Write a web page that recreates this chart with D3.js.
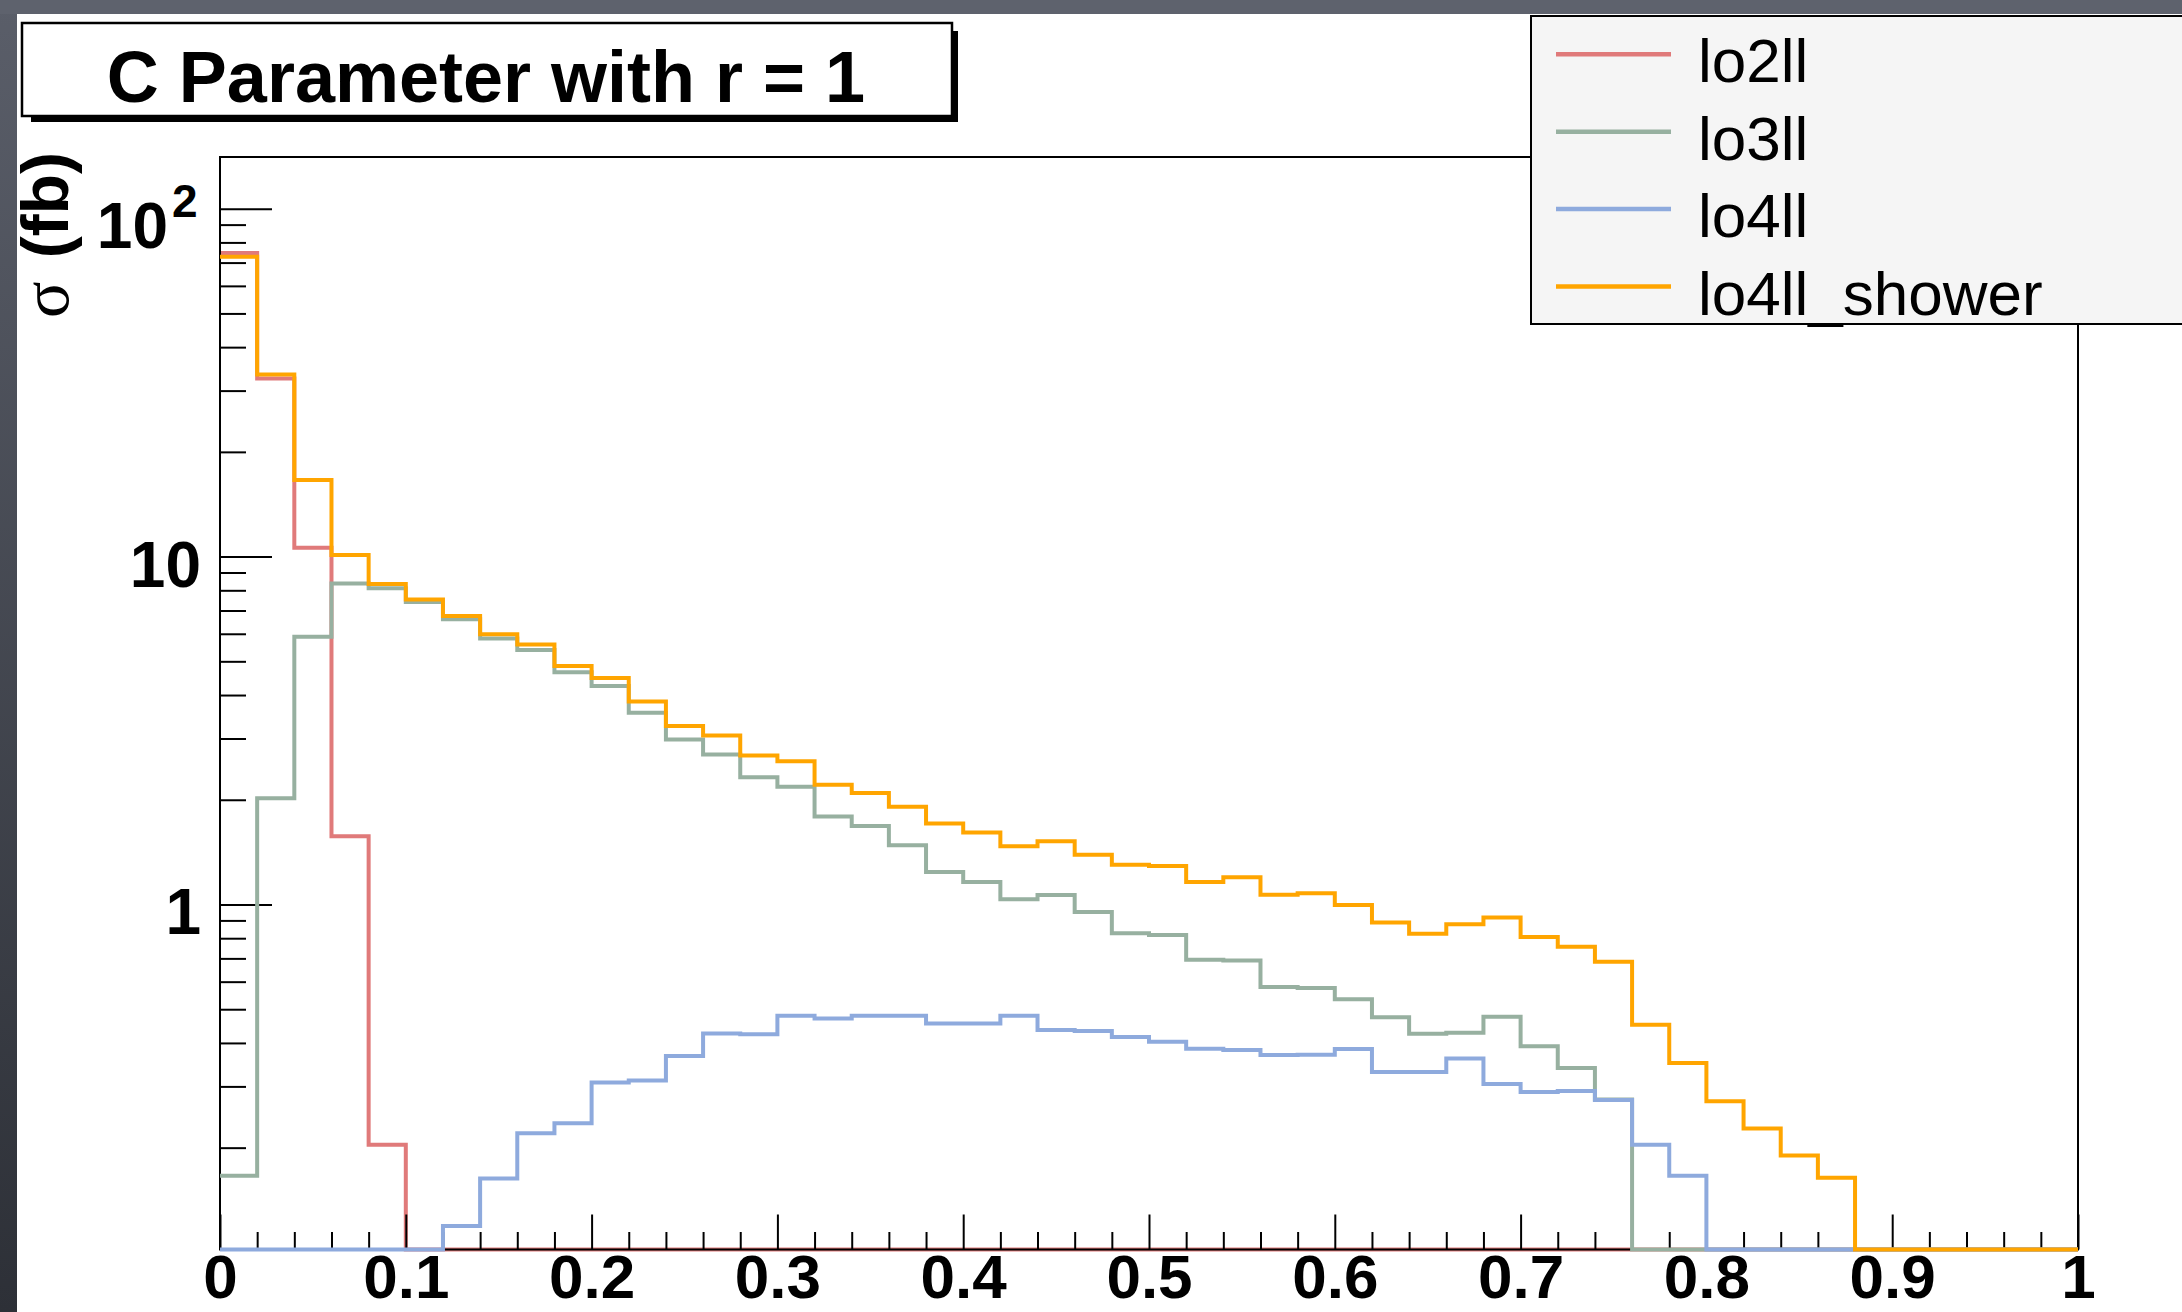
<!DOCTYPE html>
<html>
<head>
<meta charset="utf-8">
<script src="https://cdnjs.cloudflare.com/ajax/libs/d3/7.8.5/d3.min.js"></script>
<style>
  body { margin: 0; background: #ffffff; }
  svg { display: block; }
  text { font-family: "Liberation Sans", Arial, Helvetica, sans-serif; }
</style>
</head>
<body>
<div id="chart"></div>
<script>

// histogram binning: 50 bins of 0.02 between 0 and 1
var binLow = 0, binWidth = 0.02, nBins = 50;

// bin contents (fb); 0 = empty bin
var lo2ll = [74.6, 32.5, 10.6, 1.57, 0.204,
  0, 0, 0, 0, 0, 0, 0, 0, 0, 0, 0, 0, 0, 0, 0, 0, 0, 0, 0, 0,
  0, 0, 0, 0, 0, 0, 0, 0, 0, 0, 0, 0, 0, 0, 0, 0, 0, 0, 0, 0, 0, 0, 0, 0, 0];
var lo3ll = [0.166, 2.02, 5.88, 8.37, 8.11, 7.41, 6.61, 5.82, 5.39, 4.65,
  4.25, 3.56, 2.98, 2.70, 2.32, 2.18, 1.79, 1.68, 1.48, 1.24,
  1.16, 1.035, 1.065, 0.951, 0.827, 0.817, 0.694, 0.690, 0.579, 0.575,
  0.534, 0.474, 0.425, 0.428, 0.476, 0.391, 0.339, 0.275, 0, 0,
  0, 0, 0, 0, 0, 0, 0, 0, 0, 0];
var lo4ll = [0, 0, 0, 0, 0, 0, 0.119, 0.163, 0.220, 0.235,
  0.308, 0.312, 0.367, 0.426, 0.424, 0.479, 0.470, 0.479, 0.479, 0.455,
  0.455, 0.479, 0.436, 0.433, 0.416, 0.403, 0.385, 0.382, 0.369, 0.370,
  0.384, 0.330, 0.330, 0.361, 0.305, 0.289, 0.291, 0.274, 0.204, 0.166,
  0, 0, 0, 0, 0, 0, 0, 0, 0, 0];
var lo4ll_shower = [72.7, 33.4, 16.6, 10.1, 8.34, 7.53, 6.75, 5.98, 5.59, 4.85,
  4.48, 3.83, 3.26, 3.06, 2.68, 2.58, 2.21, 2.09, 1.91, 1.71,
  1.61, 1.47, 1.52, 1.39, 1.30, 1.29, 1.16, 1.197, 1.067, 1.077,
  0.997, 0.887, 0.824, 0.877, 0.917, 0.807, 0.756, 0.685, 0.451, 0.350,
  0.272, 0.227, 0.190, 0.164, 0, 0, 0, 0, 0, 0];

var seriesNames = ["lo2ll", "lo3ll", "lo4ll", "lo4ll_shower"];
var seriesColors = ["#e07a7a", "#97b0a0", "#8eaadd", "#ffa500"];

// axis ticks
var xMajor = [0, 0.1, 0.2, 0.3, 0.4, 0.5, 0.6, 0.7, 0.8, 0.9, 1];
var xTickLabels = ["0", "0.1", "0.2", "0.3", "0.4", "0.5", "0.6", "0.7", "0.8", "0.9", "1"];
var yMajor = [1, 10, 100];
var yTickBase = ["1", "10", "10"];
var yTickSup = ["", "", "2"];
var yMinor = [0.2, 0.3, 0.4, 0.5, 0.6, 0.7, 0.8, 0.9,
              2, 3, 4, 5, 6, 7, 8, 9,
              20, 30, 40, 50, 60, 70, 80, 90];

var titleText = "C Parameter with r = 1";

// canvas
var W = 2182, H = 1312;
var frame = {left: 220, right: 2078, top: 157, bottom: 1249.5};

var svg = d3.select("#chart").append("svg")
    .attr("width", W)
    .attr("height", H);

// slide background round the canvas
var defs = svg.append("defs");
var grad = defs.append("linearGradient")
    .attr("id", "band").attr("x1", 0).attr("y1", 0).attr("x2", 0).attr("y2", 1);
grad.append("stop").attr("offset", "0%").attr("stop-color", "#5a5e69");
grad.append("stop").attr("offset", "100%").attr("stop-color", "#2d3037");

svg.append("rect").attr("width", W).attr("height", H).attr("fill", "url(#band)");
svg.append("rect").attr("width", W).attr("height", 14).attr("fill", "#5e626d");
svg.append("rect").attr("x", 17).attr("y", 14)
    .attr("width", W - 17).attr("height", H - 14).attr("fill", "#ffffff");

// scales
var x = d3.scaleLinear().domain([0, 1]).range([frame.left, frame.right]);
var y = d3.scaleLog().domain([0.10193, 140.8]).range([frame.bottom, frame.top]);
var yFloor = y.domain()[0];

function stepPoints(vals) {
  var pts = vals.map(function(v, i) { return [binLow + i * binWidth, v]; });
  pts.push([binLow + nBins * binWidth, vals[vals.length - 1]]);
  return pts;
}

var line = d3.line()
    .x(function(d) { return x(d[0]); })
    .y(function(d) { return y(Math.max(d[1], yFloor)); })
    .curve(d3.curveStepAfter);

function drawHist(vals, color) {
  svg.append("path")
      .datum(stepPoints(vals))
      .attr("d", line)
      .attr("fill", "none")
      .attr("stroke", color)
      .attr("stroke-width", 4)
      .attr("stroke-linejoin", "miter");
}

// title box with shadow
svg.append("rect").attr("x", 31).attr("y", 31).attr("width", 927).attr("height", 91)
    .attr("fill", "#000");
svg.append("rect").attr("x", 22).attr("y", 23).attr("width", 930).attr("height", 93)
    .attr("fill", "#fff").attr("stroke", "#000").attr("stroke-width", 2.5);
svg.append("text")
    .attr("x", 486).attr("y", 102)
    .attr("text-anchor", "middle")
    .style("font-size", "72px").style("font-weight", "bold")
    .text(titleText);

// first histogram goes under the axes, like ROOT does
drawHist(lo2ll, seriesColors[0]);

// frame
svg.append("rect")
    .attr("x", frame.left).attr("y", frame.top)
    .attr("width", frame.right - frame.left).attr("height", frame.bottom - frame.top)
    .attr("fill", "none").attr("stroke", "#000").attr("stroke-width", 2);

// x axis, ticks pointing inward
var gx = svg.append("g")
    .attr("transform", "translate(0," + frame.bottom + ")")
    .call(d3.axisBottom(x)
        .tickValues(xMajor)
        .tickSize(-35)
        .tickFormat(function(d, i) { return xTickLabels[i]; }));
gx.select(".domain").remove();
gx.selectAll("line").attr("stroke-width", 2);
gx.selectAll("text")
    .attr("y", 1298 - frame.bottom)
    .attr("dy", 0)
    .attr("fill", "#000")
    .style("font-size", "62px")
    .style("font-weight", "bold")
    .style("font-family", "'Liberation Sans', Arial, Helvetica, sans-serif");

var xMinor = d3.range(0, 51).map(function(i) { return i * 0.02; })
    .filter(function(v, i) { return i % 5 !== 0; });
var gxm = svg.append("g")
    .attr("transform", "translate(0," + frame.bottom + ")")
    .call(d3.axisBottom(x).tickValues(xMinor).tickSize(-17.5).tickFormat(""));
gxm.select(".domain").remove();
gxm.selectAll("line").attr("stroke-width", 2);

// y axis
var gy = svg.append("g")
    .attr("transform", "translate(" + frame.left + ",0)")
    .call(d3.axisLeft(y).tickValues(yMajor).tickSize(-52).tickFormat(""));
gy.select(".domain").remove();
gy.selectAll("line").attr("stroke-width", 2);

var gym = svg.append("g")
    .attr("transform", "translate(" + frame.left + ",0)")
    .call(d3.axisLeft(y).tickValues(yMinor).tickSize(-26).tickFormat(""));
gym.select(".domain").remove();
gym.selectAll("line").attr("stroke-width", 2);

yMajor.forEach(function(v, i) {
  if (yTickSup[i]) {
    svg.append("text")
        .attr("x", 168).attr("y", y(v) + 39)
        .attr("text-anchor", "end")
        .style("font-size", "64px").style("font-weight", "bold")
        .text(yTickBase[i]);
    svg.append("text")
        .attr("x", 172).attr("y", y(v) + 8)
        .style("font-size", "46px").style("font-weight", "bold")
        .text(yTickSup[i]);
  } else {
    svg.append("text")
        .attr("x", 201).attr("y", y(v) + 30)
        .attr("text-anchor", "end")
        .style("font-size", "64px").style("font-weight", "bold")
        .text(yTickBase[i]);
  }
});

// y title: sigma (fb), rotated
svg.append("text")
    .attr("transform", "translate(68,318) rotate(-90)")
    .style("font-size", "68px")
    .style("font-family", "'Liberation Serif', 'DejaVu Serif', serif")
    .text("\u03c3");
svg.append("text")
    .attr("transform", "translate(68,152) rotate(-90)")
    .attr("text-anchor", "end")
    .style("font-size", "66px").style("font-weight", "bold")
    .text("(fb)");

// remaining histograms, drawn over the axes
drawHist(lo3ll, seriesColors[1]);
drawHist(lo4ll, seriesColors[2]);
drawHist(lo4ll_shower, seriesColors[3]);

// legend
svg.append("rect")
    .attr("x", 1531).attr("y", 16)
    .attr("width", 700).attr("height", 308)
    .attr("fill", "#f5f5f5").attr("stroke", "#000").attr("stroke-width", 2);

var leg = svg.selectAll(".leg")
    .data(seriesNames)
  .enter().append("g")
    .attr("class", "leg")
    .attr("transform", function(d, i) { return "translate(0," + (54.3 + i * 77.4) + ")"; });
leg.append("line")
    .attr("x1", 1556).attr("x2", 1671)
    .attr("stroke", function(d, i) { return seriesColors[i]; })
    .attr("stroke-width", 4.5);
leg.append("text")
    .attr("x", 1698).attr("y", 28)
    .style("font-size", "62px")
    .text(function(d) { return d; });

</script>
</body>
</html>
